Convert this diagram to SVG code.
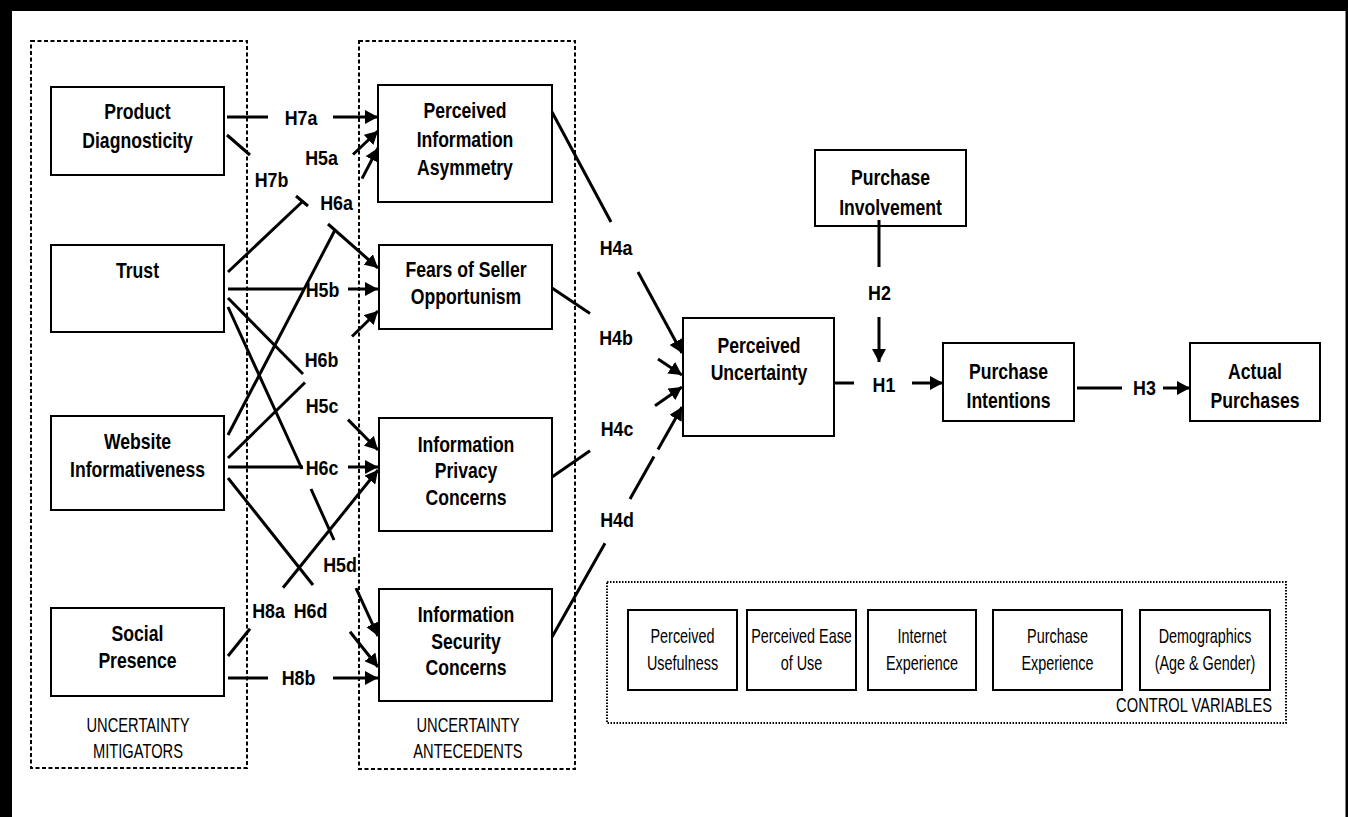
<svg xmlns="http://www.w3.org/2000/svg" width="1348" height="817" viewBox="0 0 1348 817">
<style>
.box{fill:#fff;stroke:#000;stroke-width:2}
.grp{fill:none;stroke:#000;stroke-width:2;stroke-dasharray:4 2.5}
.ctl{fill:none;stroke:#000;stroke-width:2;stroke-dasharray:1.5 1.5}
.c{stroke:#000;stroke-width:3;fill:none}
.a{marker-end:url(#ah)}
.n{font-family:"Liberation Sans",Arial,sans-serif;font-weight:bold;font-size:22px;text-anchor:middle;fill:#000}
.h{font-family:"Liberation Sans",Arial,sans-serif;font-weight:bold;font-size:21px;text-anchor:middle;fill:#000}
.g{font-family:"Liberation Sans",Arial,sans-serif;font-size:21px;text-anchor:middle;fill:#000}
.cv{font-family:"Liberation Sans",Arial,sans-serif;font-size:20px;text-anchor:middle;fill:#000}
</style>
<defs>
<marker id="ah" markerUnits="userSpaceOnUse" markerWidth="13" markerHeight="14" refX="13" refY="7" orient="auto">
<path d="M0,0 L13,7 L0,14 z" fill="#000"/>
</marker>
</defs>
<rect width="1348" height="817" fill="#fff"/>
<g id="frame">
<rect x="0" y="0" width="1348" height="11" fill="#000"/>
<rect x="0" y="0" width="12" height="817" fill="#000"/>
<rect x="1345.5" y="0" width="2.5" height="817" fill="#000"/>
</g>
<g id="groups">
<rect class="grp" x="31" y="41" width="216" height="727"/>
<text class="g" transform="translate(138 0) scale(0.7 1)"><tspan x="0" y="732">UNCERTAINTY</tspan><tspan x="0" y="758">MITIGATORS</tspan></text>
<rect class="grp" x="359" y="41" width="216" height="728"/>
<text class="g" transform="translate(468 0) scale(0.7 1)"><tspan x="0" y="732">UNCERTAINTY</tspan><tspan x="0" y="758">ANTECEDENTS</tspan></text>
</g>
<g id="n-product"><rect class="box" x="51" y="87" width="173" height="88"/>
<text class="n" transform="translate(137.5 0) scale(0.8 1)"><tspan x="0" y="119">Product</tspan><tspan x="0" y="148">Diagnosticity</tspan></text></g>
<g id="n-trust"><rect class="box" x="51" y="245" width="173" height="87"/>
<text class="n" transform="translate(137.5 0) scale(0.8 1)"><tspan x="0" y="278">Trust</tspan></text></g>
<g id="n-website"><rect class="box" x="51" y="416" width="173" height="94"/>
<text class="n" transform="translate(137.5 0) scale(0.8 1)"><tspan x="0" y="449">Website</tspan><tspan x="0" y="477">Informativeness</tspan></text></g>
<g id="n-social"><rect class="box" x="51" y="608" width="173" height="88"/>
<text class="n" transform="translate(137.5 0) scale(0.8 1)"><tspan x="0" y="641">Social</tspan><tspan x="0" y="668">Presence</tspan></text></g>
<g id="n-pia"><rect class="box" x="378" y="85" width="174" height="117"/>
<text class="n" transform="translate(465 0) scale(0.8 1)"><tspan x="0" y="118">Perceived</tspan><tspan x="0" y="147">Information</tspan><tspan x="0" y="175">Asymmetry</tspan></text></g>
<g id="n-fears"><rect class="box" x="379" y="245" width="173" height="84"/>
<text class="n" transform="translate(466 0) scale(0.8 1)"><tspan x="0" y="277">Fears of Seller</tspan><tspan x="0" y="304">Opportunism</tspan></text></g>
<g id="n-privacy"><rect class="box" x="379" y="418" width="173" height="113"/>
<text class="n" transform="translate(466 0) scale(0.8 1)"><tspan x="0" y="452">Information</tspan><tspan x="0" y="478">Privacy</tspan><tspan x="0" y="505">Concerns</tspan></text></g>
<g id="n-security"><rect class="box" x="379" y="589" width="173" height="112"/>
<text class="n" transform="translate(466 0) scale(0.8 1)"><tspan x="0" y="622">Information</tspan><tspan x="0" y="649">Security</tspan><tspan x="0" y="675">Concerns</tspan></text></g>
<g id="n-uncertainty"><rect class="box" x="683" y="318" width="151" height="118"/>
<text class="n" transform="translate(759 0) scale(0.8 1)"><tspan x="0" y="353">Perceived</tspan><tspan x="0" y="380">Uncertainty</tspan></text></g>
<g id="n-involvement"><rect class="box" x="815" y="150" width="151" height="76"/>
<text class="n" transform="translate(890.5 0) scale(0.8 1)"><tspan x="0" y="185">Purchase</tspan><tspan x="0" y="215">Involvement</tspan></text></g>
<g id="n-intentions"><rect class="box" x="943" y="343" width="131" height="78"/>
<text class="n" transform="translate(1008.5 0) scale(0.8 1)"><tspan x="0" y="379">Purchase</tspan><tspan x="0" y="408">Intentions</tspan></text></g>
<g id="n-actual"><rect class="box" x="1190" y="343" width="130" height="78"/>
<text class="n" transform="translate(1255 0) scale(0.8 1)"><tspan x="0" y="379">Actual</tspan><tspan x="0" y="408">Purchases</tspan></text></g>
<g id="controls">
<rect class="ctl" x="607" y="582" width="679" height="141"/>
<text class="g" transform="translate(1272 0) scale(0.7 1)" style="text-anchor:end"><tspan x="0" y="712">CONTROL VARIABLES</tspan></text>
<g id="cv-pu"><rect class="box" x="628" y="610" width="109" height="80"/>
<text class="cv" transform="translate(682.5 0) scale(0.72 1)"><tspan x="0" y="643">Perceived</tspan><tspan x="0" y="670">Usefulness</tspan></text></g>
<g id="cv-peou"><rect class="box" x="747" y="610" width="109" height="80"/>
<text class="cv" transform="translate(801.5 0) scale(0.72 1)"><tspan x="0" y="643">Perceived Ease</tspan><tspan x="0" y="670">of Use</tspan></text></g>
<g id="cv-ie"><rect class="box" x="868" y="610" width="108" height="80"/>
<text class="cv" transform="translate(922 0) scale(0.72 1)"><tspan x="0" y="643">Internet</tspan><tspan x="0" y="670">Experience</tspan></text></g>
<g id="cv-pe"><rect class="box" x="993" y="610" width="129" height="80"/>
<text class="cv" transform="translate(1057.5 0) scale(0.72 1)"><tspan x="0" y="643">Purchase</tspan><tspan x="0" y="670">Experience</tspan></text></g>
<g id="cv-demo"><rect class="box" x="1140" y="610" width="130" height="80"/>
<text class="cv" transform="translate(1205 0) scale(0.72 1)"><tspan x="0" y="643">Demographics</tspan><tspan x="0" y="670">(Age &amp; Gender)</tspan></text></g>
</g>
<g id="connectors">
<path class="c" d="M227,117 L268,117"/><path class="c a" d="M333,117 L378,117"/>
<path class="c" d="M227,135 L250,155 M296,196 L308,206"/><path class="c a" d="M328,224 L378,268"/>
<path class="c" d="M228,272 L302,202"/><path class="c a" d="M353,154.5 L378,131"/>
<path class="c" d="M228,289 L305,289"/><path class="c a" d="M348,289 L378,289"/>
<path class="c" d="M228,298 L303,374"/><path class="c a" d="M348,419.6 L378,450"/>
<path class="c" d="M228,307 L302,469 M311,489 L334,540"/><path class="c a" d="M356,588 L378,636"/>
<path class="c" d="M228,435 L335,230"/><path class="c a" d="M362,178.6 L378,148"/>
<path class="c" d="M228,458 L305,382.5"/><path class="c a" d="M352,336.5 L378,311"/>
<path class="c" d="M228,467 L303,467"/><path class="c a" d="M348,467 L378,467"/>
<path class="c" d="M228,478 L313,585"/><path class="c a" d="M350,631.7 L378,667"/>
<path class="c" d="M228,656 L250,628.7"/><path class="c a" d="M283,587.8 L378,470"/>
<path class="c" d="M228,678 L268,678"/><path class="c a" d="M333,678 L378,678"/>
<path class="c" d="M552,112 L611,222"/><path class="c a" d="M638,272 L682,353"/>
<path class="c" d="M552,288 L590,313.4"/><path class="c a" d="M658,358.9 L682,375"/>
<path class="c" d="M552,477 L590,450.7"/><path class="c a" d="M655,405.7 L682,387"/>
<path class="c" d="M552,637 L605,543.2 M630,499 L654,456.6"/><path class="c a" d="M658,449.5 L682,407"/>
<path class="c" d="M834,383 L854,383"/><path class="c a" d="M912,383 L943,383"/>
<path class="c" d="M879,220 L879,267"/><path class="c a" d="M879,317 L879,362"/>
<path class="c" d="M1077,388 L1122,388"/><path class="c a" d="M1163,388 L1190,388"/>
<g id="labels">
<text class="h" transform="translate(301 0) scale(0.85 1)" y="125">H7a</text>
<text class="h" transform="translate(271.5 0) scale(0.85 1)" y="187">H7b</text>
<text class="h" transform="translate(321.5 0) scale(0.85 1)" y="165">H5a</text>
<text class="h" transform="translate(336.5 0) scale(0.85 1)" y="210">H6a</text>
<text class="h" transform="translate(322.5 0) scale(0.85 1)" y="297">H5b</text>
<text class="h" transform="translate(321.5 0) scale(0.85 1)" y="367">H6b</text>
<text class="h" transform="translate(322 0) scale(0.85 1)" y="413">H5c</text>
<text class="h" transform="translate(322 0) scale(0.85 1)" y="475">H6c</text>
<text class="h" transform="translate(340 0) scale(0.85 1)" y="572">H5d</text>
<text class="h" transform="translate(268.5 0) scale(0.85 1)" y="618">H8a</text>
<text class="h" transform="translate(310.5 0) scale(0.85 1)" y="618">H6d</text>
<text class="h" transform="translate(298.5 0) scale(0.85 1)" y="685">H8b</text>
<text class="h" transform="translate(616 0) scale(0.85 1)" y="255">H4a</text>
<text class="h" transform="translate(616 0) scale(0.85 1)" y="345">H4b</text>
<text class="h" transform="translate(617 0) scale(0.85 1)" y="436">H4c</text>
<text class="h" transform="translate(617 0) scale(0.85 1)" y="527">H4d</text>
<text class="h" transform="translate(879.5 0) scale(0.85 1)" y="300">H2</text>
<text class="h" transform="translate(884 0) scale(0.85 1)" y="392">H1</text>
<text class="h" transform="translate(1144.5 0) scale(0.85 1)" y="395">H3</text>
</g>
</g>
</svg>
